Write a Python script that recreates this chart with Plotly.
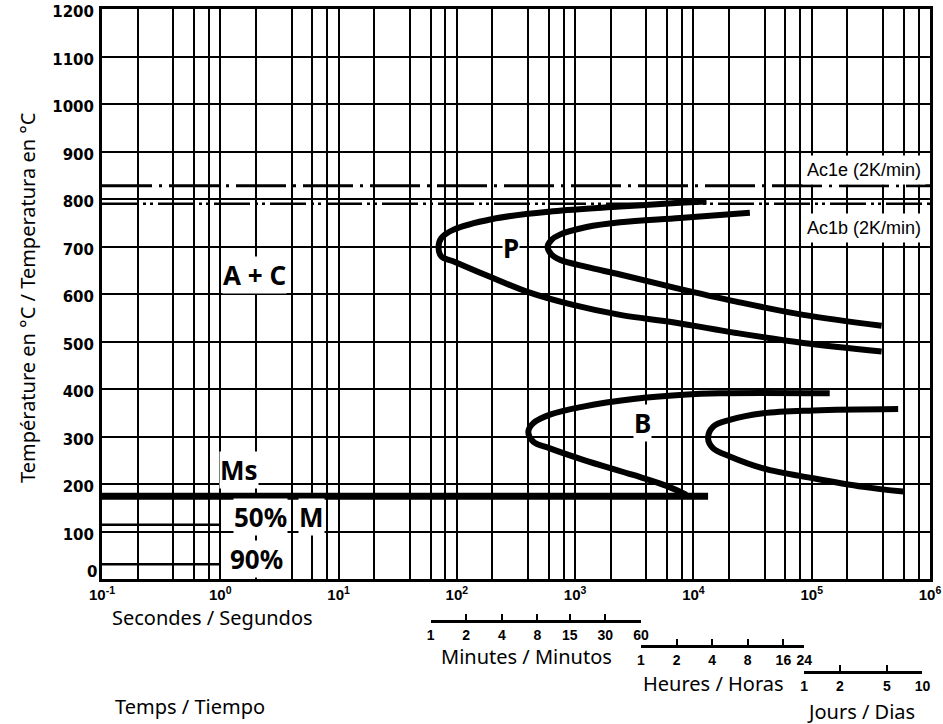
import numpy as np
import plotly.graph_objects as go

# ---------------- data ----------------
# Pearlite start (P) curve: time [s], temperature [°C]
p_start_t = [12900, 7700, 2400, 650, 200, 93, 74, 70, 74, 93, 200, 390, 960, 2400, 6900, 23000, 85000, 390000]
p_start_T = [795, 792, 784, 774, 758, 735, 718, 699, 679, 669, 634, 605, 577, 556, 540, 518, 497, 479]
# Pearlite end curve
p_end_t = [30000, 7700, 2400, 1250, 743, 631, 585, 631, 743, 1250, 2400, 7000, 23000, 85000, 390000]
p_end_T = [771, 760, 751, 741, 725, 714, 699, 683, 672, 657, 641, 613, 584, 556, 533]
# Bainite start (B) curve
b_start_t = [142000, 16700, 8200, 3100, 1170, 612, 443, 402, 443, 612, 1170, 3100, 5930, 8750]
b_start_T = [391, 391, 388, 379, 363, 346, 328, 310, 289, 275, 251, 219, 196, 177]
# Bainite end curve
b_end_t = [538000, 103000, 38900, 20300, 14700, 13300, 14700, 20300, 38900, 103000, 273000, 594000]
b_end_T = [358, 355, 349, 335, 321, 296, 275, 258, 233, 212, 194, 184]
# Martensite lines
ms_t = [0.1, 13300]
ms_T = 174
m50_t = [0.1, 1]
m50_T = 114
m90_t = [0.1, 1]
m90_T = 31
# Ac temperatures (2 K/min)
ac1e_T = 828
ac1b_T = 790
t_span = [0.1, 1e6]

# axis ticks
y_ticks = list(range(100, 1201, 100))
y_zero_label = "0"
x_decades = [0.1, 1, 10, 100, 1e3, 1e4, 1e5, 1e6]
x_decade_labels = ["10<sup>-1</sup>", "10<sup>0</sup>", "10<sup>1</sup>", "10<sup>2</sup>",
                   "10<sup>3</sup>", "10<sup>4</sup>", "10<sup>5</sup>", "10<sup>6</sup>"]
minor_digits = [2, 4, 6, 8]

# secondary time scales
minutes = [1, 2, 4, 8, 15, 30, 60]
hours = [1, 2, 4, 8, 16, 24]
days = [1, 2, 5, 10]

# ---------------- layout helpers ----------------
W, H = 943, 724
ML, MR, MT, MB = 102, 13, 9, 10
PW, PH = W - ML - MR, H - MT - MB
XMIN, XMAX = -1, 6


def px(xpix):
    return (xpix - ML) / PW


def py(ypix):
    return (H - MB - ypix) / PH


Y_BOTTOM = 579
main_bottom = py(Y_BOTTOM)

fig = go.Figure()

curve_style = dict(color="black", width=6, shape="spline", smoothing=1.0)
for tt, TT in [(p_start_t, p_start_T), (p_end_t, p_end_T), (b_start_t, b_start_T), (b_end_t, b_end_T)]:
    fig.add_trace(go.Scatter(x=tt, y=TT, mode="lines", line=curve_style, hoverinfo="skip", showlegend=False))

fig.add_trace(go.Scatter(x=ms_t, y=[ms_T, ms_T], mode="lines", line=dict(color="black", width=7),
                         hoverinfo="skip", showlegend=False))
fig.add_trace(go.Scatter(x=m50_t, y=[m50_T, m50_T], mode="lines", line=dict(color="black", width=2.5),
                         hoverinfo="skip", showlegend=False))
fig.add_trace(go.Scatter(x=m90_t, y=[m90_T, m90_T], mode="lines", line=dict(color="black", width=2.5),
                         hoverinfo="skip", showlegend=False))
fig.add_trace(go.Scatter(x=t_span, y=[ac1e_T, ac1e_T], mode="lines",
                         line=dict(color="black", width=3, dash="50px,7px,3px,7px"),
                         hoverinfo="skip", showlegend=False))
fig.add_trace(go.Scatter(x=t_span, y=[ac1b_T, ac1b_T], mode="lines",
                         line=dict(color="black", width=2.5, dash="36px,5px,3px,4px,3px,5px"),
                         hoverinfo="skip", showlegend=False))

# secondary scales: invisible traces on auxiliary axes
scales = [
    ("x2", [m * 60 for m in minutes], minutes, 621),
    ("x3", [h * 3600 for h in hours], hours, 646),
    ("x4", [d * 86400 for d in days], days, 672),
]
for ax, secs, labels, _ in scales:
    fig.add_trace(go.Scatter(x=secs, y=[0.5] * len(secs), xaxis=ax, yaxis="y2", mode="lines",
                             line=dict(color="rgba(0,0,0,0)", width=0), hoverinfo="skip", showlegend=False))

minor_vals = [d * m for d in x_decades[:-1] for m in minor_digits]

layout = dict(
    width=W, height=H,
    margin=dict(l=ML, r=MR, t=MT, b=MB, autoexpand=False),
    paper_bgcolor="white", plot_bgcolor="white",
    showlegend=False,
    xaxis=dict(type="log", range=[XMIN, XMAX], domain=[0, 1], anchor="y", automargin=False,
               tickmode="array", tickvals=x_decades, ticktext=x_decade_labels,
               tickfont=dict(family="Liberation Sans", size=15, color="black", weight="bold"),
               showgrid=True, gridcolor="black", gridwidth=2,
               minor=dict(tickmode="array", tickvals=minor_vals, showgrid=True, gridcolor="black", gridwidth=1.6),
               showline=True, linecolor="black", linewidth=3, mirror=True, ticks="", zeroline=False),
    yaxis=dict(range=[0, 1200], domain=[main_bottom, 1], anchor="x", automargin=False,
               tickmode="array", tickvals=y_ticks,
               tickfont=dict(family="DejaVu Sans", size=15, color="black", weight="bold"),
               showgrid=True, gridcolor="black", gridwidth=2,
               showline=True, linecolor="black", linewidth=3, mirror=True, ticks="", zeroline=False,
               ticklabelstandoff=2, ticklabelshift=3),
    yaxis2=dict(domain=[0, main_bottom - 0.01], range=[0, 1], visible=False, anchor="x2", automargin=False),
)

for ax, secs, labels, ypix in scales:
    lo, hi = np.log10(secs[0]), np.log10(secs[-1])
    key = "xaxis" + ax[1:]
    layout[key] = dict(type="log", range=[lo, hi],
                       domain=[(lo - XMIN) / (XMAX - XMIN), (hi - XMIN) / (XMAX - XMIN)],
                       anchor="free", position=py(ypix), automargin=False,
                       tickmode="array", tickvals=secs, ticktext=[str(v) for v in labels],
                       ticks="inside", ticklen=6, tickwidth=2, tickcolor="black",
                       showline=True, linecolor="black", linewidth=2.5, showgrid=False, zeroline=False,
                       ticklabelstandoff=0,
                       tickfont=dict(family="Liberation Sans", size=14, color="black", weight="bold"))

fig.update_layout(**layout)

# "0" tick label sits just above the time axis in the original
fig.add_annotation(x=px(99), y=14, xref="paper", yref="y", text=y_zero_label, showarrow=False,
                   xanchor="right", yanchor="middle",
                   font=dict(family="DejaVu Sans", size=15, color="black", weight="bold"))

# ---------------- annotations ----------------
lab_font = dict(family="Noto Sans", size=26, color="black", weight="bold")
region_labels = [
    ("A + C", 0.285, 640),
    ("P", 2.457, 697),
    ("B", 3.573, 329),
    ("Ms", 0.158, 229),
    ("50%", 0.344, 131),
    ("M", 0.775, 131),
    ("90%", 0.310, 42),
]
for txt, lx, ly in region_labels:
    fig.add_annotation(x=lx, y=ly, xref="x", yref="y", text=txt, showarrow=False,
                       font=lab_font, bgcolor="white", borderpad=0)

ac_font = dict(family="Liberation Sans", size=18, color="black")
fig.add_annotation(x=5.97, y=862, xref="x", yref="y", text="Ac1e (2K/min)", showarrow=False,
                   xanchor="right", font=ac_font, bgcolor="white", borderpad=4)
fig.add_annotation(x=5.97, y=740, xref="x", yref="y", text="Ac1b (2K/min)", showarrow=False,
                   xanchor="right", font=ac_font, bgcolor="white", borderpad=4)

txt_font = dict(family="Noto Sans", size=20, color="black")
side_texts = [
    ("Secondes / Segundos", 212, 617),
    ("Temps / Tiempo", 190, 706),
    ("Minutes / Minutos", 526, 656),
    ("Heures / Horas", 713, 683),
    ("Jours / Dias", 861, 711),
]
for txt, xp, yp in side_texts:
    fig.add_annotation(x=px(xp), y=py(yp), xref="paper", yref="paper", text=txt, showarrow=False,
                       font=txt_font, xanchor="center", yanchor="middle")

fig.add_annotation(x=px(27), y=py(298), xref="paper", yref="paper",
                   text="Température en °C / Temperatura en °C", showarrow=False,
                   textangle=-90, font=txt_font, xanchor="center", yanchor="middle")

fig.write_html("out.html")
